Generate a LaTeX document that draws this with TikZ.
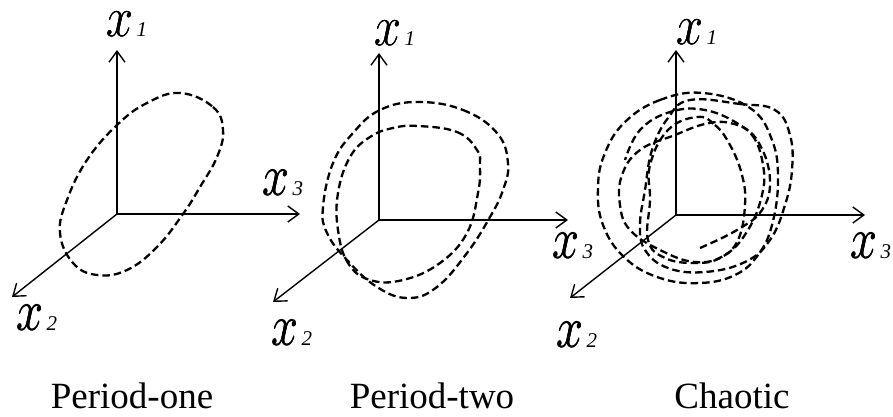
\RequirePackage{fix-cm}
\documentclass[tikz,border=0pt]{standalone}
\usepackage{graphicx}
\usepackage{fontspec}
\setmainfont{Liberation Serif}
\usetikzlibrary{arrows.meta}
\newcommand{\axx}{\scalebox{0.85}[1]{\fontsize{57}{57}\usefont{OML}{cmm}{m}{it}\rlap{x}\kern0.9pt\rlap{x}\kern-0.45pt\raisebox{0.5pt}{x}}}
\newcommand{\axsub}[1]{\hspace{3pt}{\fontsize{21}{21}\selectfont\itshape #1}}
\begin{document}
\begin{tikzpicture}[x=1pt,y=-1pt,
  axis/.style={line width=1.4pt,-{Straight Barb[length=11pt,width=16pt,line width=1.4pt]}},
  orbit/.style={line width=2.3pt,dash pattern=on 7.5pt off 4pt},
  axlabel/.style={inner sep=0pt,anchor=base west},
  caption/.style={inner sep=0pt,anchor=base,font=\fontsize{37}{37}\selectfont}]
\useasboundingbox (0,0) rectangle (893,417);

% ---------- Panel 1 ----------
\coordinate (o1) at (117,214);
\coordinate (a1up) at (117,50);
\coordinate (a1rt) at (300,214);
\coordinate (a1dn) at (12,297);
\draw[axis] (o1) -- (a1up);
\draw[axis] (o1) -- (a1rt);
\draw[axis] (o1) -- (a1dn);
\node[axlabel] (l1x1) at (106,37) {\axx\axsub{1}};
\node[axlabel] (l1x3) at (262,195) {\axx\axsub{3}};
\node[axlabel] (l1x2) at (16,330) {\axx\axsub{2}};
\draw[orbit] plot[smooth cycle,tension=0.7] coordinates {
 (180,93) (213,107) (223,130) (217,157) (200,187) (183,214) (157,247)
 (127,270) (97,275) (73,263) (60,233) (67,200) (87,160) (117,125) (147,103)};

% ---------- Panel 2 ----------
\coordinate (o2) at (379,220);
\coordinate (a2up) at (379,53);
\coordinate (a2rt) at (568,220);
\coordinate (a2dn) at (273,302);
\draw[axis] (o2) -- (a2up);
\draw[axis] (o2) -- (a2rt);
\draw[axis] (o2) -- (a2dn);
\node[axlabel] (l2x1) at (374,46) {\axx\axsub{1}};
\node[axlabel] (l2x3) at (552,258) {\axx\axsub{3}};
\node[axlabel] (l2x2) at (271,345) {\axx\axsub{2}};
\draw[orbit] plot[smooth cycle,tension=0.7] coordinates {
 (418,102) (463,110) (497,133) (508,163) (503,190) (490,217) (467,253)
 (437,287) (408,298) (377,287) (347,260) (327,233) (323,207) (333,163)
 (353,133) (380,110)};
\draw[orbit] plot[smooth cycle,tension=0.7] coordinates {
 (418,126) (457,132) (477,150) (480,167) (478,193) (467,233) (440,263)
 (403,280) (370,280) (348,263) (338,230) (338,193) (350,157) (370,137)
 (393,128)};

% ---------- Panel 3 ----------
\coordinate (o3) at (676,215);
\coordinate (a3up) at (676,50);
\coordinate (a3rt) at (865,215);
\coordinate (a3dn) at (570,298);
\draw[axis] (o3) -- (a3up);
\draw[axis] (o3) -- (a3rt);
\draw[axis] (o3) -- (a3dn);
\node[axlabel] (l3x1) at (676,45) {\axx\axsub{1}};
\node[axlabel] (l3x3) at (850,258) {\axx\axsub{3}};
\node[axlabel] (l3x2) at (556,347) {\axx\axsub{2}};
% chaotic tangle
\draw[orbit] plot[smooth cycle,tension=0.7] coordinates {
 (703,93) (660,100) (625,122) (605,153) (598,187) (603,225) (625,258)
 (660,278) (700,283) (735,275) (758,255) (772,225) (778,180) (772,140) (750,108)};
\draw[orbit] plot[smooth cycle,tension=0.7] coordinates {
 (690,100) (740,104) (775,110) (790,135) (792,170) (785,205) (770,240)
 (745,262) (705,272) (668,268) (645,250) (640,225) (645,190) (652,150) (668,118)};
\draw[orbit] plot[smooth cycle,tension=0.7] coordinates {
 (697,117) (715,125) (730,145) (742,175) (745,205) (738,240) (720,258)
 (695,263) (665,258) (648,240) (650,200) (650,165) (668,130)};
\draw[orbit] plot[smooth cycle,tension=0.7] coordinates {
 (730,123) (752,135) (763,165) (762,195) (748,230) (725,255) (695,262)
 (660,250) (630,230) (620,205) (622,175) (640,150) (675,135) (705,124)};
\draw[orbit] plot[smooth,tension=0.7] coordinates {
 (700,248) (737,230) (762,210) (770,180) (760,145) (740,125) (705,110) (670,112) (640,130) (625,160)};

% ---------- Captions ----------
\node[caption] (c1) at (132,408) {Period-one};
\node[caption] (c2) at (432,408) {Period-two};
\node[caption] (c3) at (732,408) {Chaotic};
\end{tikzpicture}
\end{document}
